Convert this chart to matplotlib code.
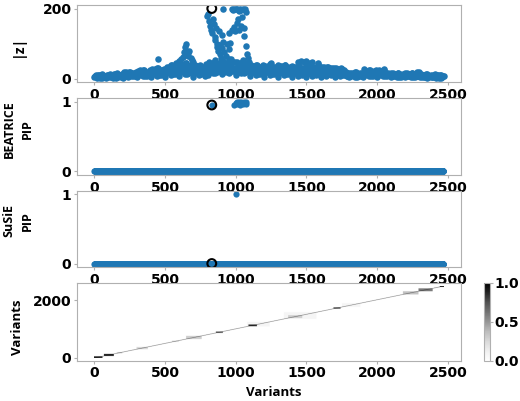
# fine-mapping summary: |z|, BEATRICE PIP, SuSiE PIP and LD matrix

import numpy as np
import matplotlib
matplotlib.use('Agg')
from matplotlib import pyplot as plt

plt.rcParams['font.family'] = 'DejaVu Sans'
plt.rcParams['font.weight'] = 'bold'

n_variants = 2470
z_step = 10     # |z| read every 10 variants

# |z| of the background cloud, one row per 100 variants
z_base = [
    3, 11, 6, 9, 1, 12, 5, 8, 2, 10,
    4, 14, 8, 1, 12, 6, 15, 3, 10, 7,
    2, 18, 9, 14, 4, 20, 11, 6, 16, 8,
    3, 22, 12, 17, 6, 25, 14, 8, 20, 10,
    4, 27, 15, 21, 8, 30, 17, 10, 24, 12,
    5, 33, 18, 26, 9, 38, 22, 12, 45, 28,
    6, 42, 24, 33, 12, 45, 28, 15, 40, 20,
    5, 38, 21, 30, 10, 36, 18, 27, 8, 42,
    10, 48, 28, 38, 15, 52, 30, 20, 45, 25,
    12, 50, 30, 40, 18, 55, 32, 22, 46, 26,
    10, 48, 28, 38, 15, 52, 30, 20, 45, 25,
    6, 38, 20, 30, 10, 40, 22, 14, 34, 18,
    5, 36, 18, 28, 9, 44, 21, 13, 33, 16,
    5, 36, 18, 27, 9, 38, 20, 12, 32, 15,
    4, 34, 17, 26, 8, 32, 19, 11, 30, 14,
    4, 31, 16, 24, 8, 30, 18, 11, 42, 14,
    4, 32, 16, 25, 8, 33, 18, 11, 29, 13,
    4, 30, 15, 23, 7, 28, 14, 9, 18, 6,
    3, 17, 9, 13, 5, 18, 10, 6, 16, 8,
    4, 26, 12, 19, 6, 24, 13, 8, 21, 10,
    4, 24, 12, 18, 6, 26, 13, 8, 16, 9,
    3, 15, 8, 12, 4, 16, 9, 5, 14, 7,
    3, 15, 8, 12, 4, 17, 9, 5, 20, 7,
    3, 13, 7, 10, 4, 12, 6, 3, 11, 5,
    3, 12, 6, 9, 2, 10, 5, 8,
]
# the variants in between (5, 15, 25, ...)
z_fill = [
    6, 2, 9, 4, 11, 1, 7, 5, 3, 10,
    8, 3, 11, 5, 13, 2, 9, 7, 4, 12,
    14, 8, 18, 12, 20, 6, 16, 13, 10, 19,
    17, 10, 23, 15, 25, 8, 20, 16, 12, 24,
    20, 12, 27, 18, 30, 9, 24, 20, 15, 28,
    26, 16, 34, 22, 38, 12, 30, 24, 18, 42,
    30, 18, 38, 26, 44, 14, 34, 28, 20, 40,
    28, 16, 36, 24, 40, 12, 32, 26, 18, 38,
    32, 20, 42, 28, 48, 16, 38, 30, 22, 46,
    32, 20, 42, 28, 48, 16, 38, 30, 22, 46,
    32, 20, 42, 28, 48, 16, 38, 30, 22, 46,
    28, 18, 36, 26, 40, 14, 34, 30, 22, 38,
    28, 18, 36, 26, 42, 14, 34, 30, 22, 38,
    27, 17, 35, 25, 38, 13, 32, 28, 21, 36,
    26, 16, 33, 24, 35, 12, 30, 28, 20, 34,
    25, 15, 32, 23, 34, 12, 30, 27, 19, 33,
    25, 15, 32, 23, 33, 12, 29, 27, 19, 31,
    22, 14, 28, 20, 30, 10, 24, 12, 8, 15,
    12, 7, 16, 10, 18, 5, 14, 11, 8, 17,
    16, 10, 22, 14, 25, 8, 20, 16, 12, 23,
    16, 10, 22, 14, 24, 8, 17, 12, 9, 15,
    11, 6, 14, 9, 16, 5, 12, 10, 7, 15,
    11, 6, 14, 9, 16, 5, 12, 10, 7, 18,
    6, 3, 10, 5, 12, 1, 8, 6, 3, 11,
    6, 2, 9, 4, 10, 1, 7,
]

# stronger signals on top of the cloud
peak_x = [450, 600, 615, 625, 635, 640, 645, 650, 660, 665, 670, 680, 690, 700,
          1440, 1460, 1480, 1500, 1520, 1540, 1580,
          795, 805, 812, 818, 822, 835, 840, 845, 850, 855, 860, 865, 870, 875,
          880, 885, 890, 895, 900, 905, 910, 912, 920, 930, 940, 950, 955, 960,
          965, 970, 975, 980, 985, 990, 995, 1000, 1005, 1010, 1015, 1020, 1025,
          1030, 1035, 1040, 1045, 1050, 1055, 1060, 1065, 1070, 1075, 1080, 1085]
peak_z = [57, 50, 55, 62, 75, 90, 98, 80, 72, 65, 78, 60, 52, 48,
          46, 50, 47, 49, 45, 48, 45,
          178, 185, 165, 150, 140, 130, 170, 155, 120, 110, 145, 100, 90, 80,
          135, 70, 95, 60, 125, 88, 200, 105, 75, 65, 98, 85, 130, 102,
          55, 140, 200, 195, 148, 200, 135, 198, 160, 200, 170, 192, 140,
          200, 150, 196, 175, 200, 145, 122, 200, 93, 190, 70, 59]

causal_x = 830      # circled variant
causal_z = 200

beatrice_x = [830, 990, 1000, 1005, 1010, 1020, 1030, 1040, 1050, 1060, 1070, 1075]
beatrice_pip = [0.95, 0.95, 0.98, 1.0, 0.96, 0.99, 0.95, 1.0, 0.97, 0.99, 0.96, 1.0]

susie_x = [1000]
susie_pip = [1.0]

# LD blocks along the diagonal: start, end, r2
ld_diag = 1.0
ld_blocks = [(0, 60, 0.85), (70, 140, 0.9), (160, 200, 0.3), (300, 380, 0.25),
             (550, 600, 0.2), (650, 760, 0.3), (860, 910, 0.7), (1080, 1240, 0.08),
             (1090, 1150, 0.85), (1340, 1570, 0.08), (1370, 1470, 0.3),
             (1690, 1740, 0.75), (1750, 1880, 0.08), (2180, 2290, 0.35),
             (2290, 2390, 0.6), (2400, 2440, 0.12), (2440, 2470, 1.0)]

blue = '#1f77b4'
spine_col = '#b0b0b0'
label_font = dict(family='Open Sans', weight='bold')

fig = plt.figure(figsize=(5.2, 4.01), dpi=100, facecolor='w')
ax1 = fig.add_axes([0.1481, 0.7955, 0.7385, 0.192])
ax2 = fig.add_axes([0.1481, 0.5636, 0.7385, 0.192])
ax3 = fig.add_axes([0.1481, 0.3342, 0.7385, 0.1895])
ax4 = fig.add_axes([0.1481, 0.1005, 0.7385, 0.193])
cax = fig.add_axes([0.9308, 0.0998, 0.0115, 0.1945])

z_pos = np.arange(len(z_base)) * z_step
fill_pos = np.arange(len(z_fill)) * z_step + z_step // 2
ax1.scatter(z_pos, z_base, s=22, c=blue, lw=0)
ax1.scatter(fill_pos, z_fill, s=22, c=blue, lw=0)
ax1.scatter(peak_x, peak_z, s=22, c=blue, lw=0)
ax1.scatter([causal_x], [causal_z], s=40, facecolors='none', edgecolors='k', lw=1.5)
ax1.set_ylim(-10, 210)
ax1.set_yticks([0, 200])

all_x = np.arange(n_variants)
beatrice = np.zeros(n_variants)
beatrice[beatrice_x] = beatrice_pip
ax2.scatter(all_x, beatrice, s=20, c=blue, lw=0)
ax2.scatter([causal_x], [beatrice[causal_x]], s=40, facecolors='none', edgecolors='k', lw=1.5)

susie = np.zeros(n_variants)
susie[susie_x] = susie_pip
ax3.scatter(all_x, susie, s=20, c=blue, lw=0)
ax3.scatter([causal_x], [susie[causal_x]], s=40, facecolors='none', edgecolors='k', lw=1.5)

for ax in (ax2, ax3):
    ax.set_ylim(-0.05, 1.05)
    ax.set_yticks([0, 1])

# LD matrix on a 10-variant grid
nb = n_variants // 10
ld = np.zeros((nb, nb))
np.fill_diagonal(ld, ld_diag)
for s, e, r2 in ld_blocks:
    blk = ld[s // 10:e // 10, s // 10:e // 10]
    ld[s // 10:e // 10, s // 10:e // 10] = np.maximum(blk, r2)
im = ax4.imshow(ld, origin='lower', cmap='Greys', vmin=0, vmax=1, aspect='auto',
                extent=(0, n_variants, 0, n_variants))
ax4.set_ylim(-100, 2580)
ax4.set_yticks([0, 2000])

for ax in (ax1, ax2, ax3, ax4):
    ax.set_xlim(-123.5, 2593.5)
    ax.set_xticks([0, 500, 1000, 1500, 2000, 2500])
    ax.tick_params(labelsize=10, length=2.5, width=0.8, color=spine_col, pad=1.5)
    for sp in ax.spines.values():
        sp.set_color(spine_col)
        sp.set_linewidth(0.8)

cb = fig.colorbar(im, cax=cax, ticks=[0, 0.5, 1.0])
cb.ax.set_yticklabels(['0.0', '0.5', '1.0'])
cb.ax.tick_params(labelsize=10, length=2, width=0.8, color=spine_col, pad=1.5)
cb.outline.set_edgecolor(spine_col)
cb.outline.set_linewidth(0.8)

fig.text(0.0346, 0.8865, '|z|', rotation=90, ha='center', va='center', fontsize=10, **label_font)
fig.text(0.0346, 0.678, 'BEATRICE\nPIP', rotation=90, ha='center', va='center',
         multialignment='center', linespacing=1.5, fontsize=9, **label_font)
fig.text(0.0346, 0.449, 'SuSiE\nPIP', rotation=90, ha='center', va='center',
         multialignment='center', linespacing=1.5, fontsize=9, **label_font)
fig.text(0.0346, 0.1845, 'Variants', rotation=90, ha='center', va='center', fontsize=9.5, **label_font)
fig.text(0.527, 0.02, 'Variants', ha='center', va='center', fontsize=9.5, **label_font)

plt.savefig('out.png', dpi=100, facecolor='w')
